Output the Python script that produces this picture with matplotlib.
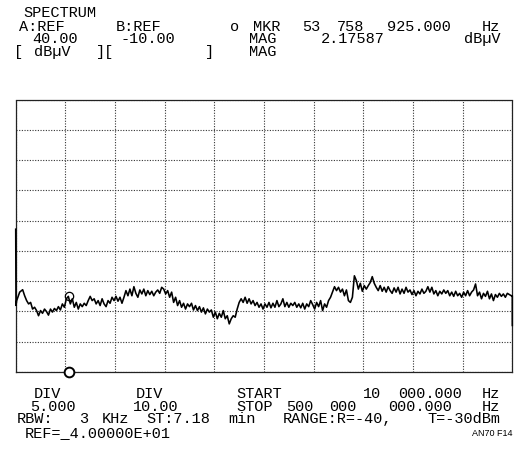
import matplotlib
matplotlib.use("Agg")
import matplotlib.pyplot as plt

# ---- data ----
start_mhz = 0.01
stop_mhz = 500.0
ref_dbuv = 40.0
div_db = 5.0
n_ydiv = 9
n_xdiv = 10

freq_mhz = [0.01, 0.3, 1, 4, 7, 9] + list(range(11, 500, 2)) + [500, 500]
level_dbuv = [18.6, 6.0, 6.8, 8.2, 8.6, 7.6,
    6.8, 6.25, 6.5, 5.4, 5.7, 5.15, 4.3, 5.15, 4.7, 5.4,
    5.0, 4.4, 5.4, 4.9, 5.5, 5.15, 5.8, 5.25, 6.25, 5.7,
    7.1, 7.5, 6.25, 7.1, 5.7, 6.5, 5.4, 6.25, 5.8, 6.36,
    5.98, 6.8, 7.5, 6.8, 7.1, 6.25, 6.8, 5.98, 7.1, 6.25,
    5.8, 6.8, 6.36, 7.35, 6.8, 7.5, 6.7, 7.35, 6.36, 7.35,
    8.45, 7.6, 8.7, 7.6, 9.1, 8.0, 7.35, 8.56, 7.9, 8.7,
    7.6, 8.45, 7.8, 8.34, 7.6, 8.2, 8.56, 8.0, 9.0, 8.7,
    7.9, 8.45, 7.35, 8.2, 6.5, 7.35, 5.98, 6.8, 5.7, 6.36,
    5.4, 6.25, 5.8, 6.36, 5.25, 5.98, 5.15, 5.8, 4.9, 5.6,
    4.6, 5.4, 4.9, 5.25, 4.05, 4.9, 3.8, 4.7, 4.05, 5.15,
    3.8, 4.3, 2.95, 3.8, 4.3, 4.05, 5.4, 6.5, 7.1, 6.5,
    7.35, 6.36, 7.1, 6.25, 6.8, 5.98, 6.5, 5.7, 6.25, 5.4,
    6.25, 5.7, 6.5, 5.6, 6.36, 5.7, 6.8, 5.8, 6.25, 7.1,
    5.8, 6.5, 5.7, 6.36, 5.98, 6.5, 5.7, 6.25, 5.6, 6.36,
    5.4, 6.25, 5.8, 6.8, 6.14, 5.4, 6.5, 5.8, 6.8, 5.15,
    6.25, 5.7, 6.8, 7.35, 8.2, 9.1, 8.45, 9.0, 8.2, 8.7,
    7.6, 8.56, 6.8, 6.5, 7.35, 10.9, 10.1, 8.7, 9.66, 8.34,
    9.28, 8.7, 9.28, 9.8, 10.76, 9.66, 9.0, 8.45, 9.28, 8.34,
    9.0, 8.2, 9.1, 8.45, 8.0, 8.9, 8.2, 9.0, 7.9, 8.7,
    8.0, 9.0, 8.2, 8.56, 7.8, 8.45, 7.6, 8.34, 7.9, 8.7,
    8.0, 8.34, 9.1, 8.2, 9.0, 7.9, 8.45, 7.6, 8.34, 7.9,
    8.56, 8.0, 8.45, 7.6, 8.2, 7.5, 8.34, 7.6, 8.0, 7.35,
    8.2, 7.6, 8.45, 7.6, 8.2, 8.56, 9.55, 7.6, 8.2, 7.1,
    8.0, 7.5, 8.34, 7.1, 7.9, 6.8, 7.8, 7.35, 8.0, 7.5,
    7.9, 7.35, 8.0, 7.8, 7.6,
    7.6, 2.7]

marker_mhz = 53.76
marker_trace_db = 7.5

# ---- figure ----
W, H = 516, 452
fig = plt.figure(figsize=(W / 100, H / 100), dpi=100)
fig.patch.set_facecolor("white")

left_px, right_px, top_px, bot_px = 15.7, 512.3, 100.7, 373.0
ax = fig.add_axes([left_px / W, 1 - bot_px / H,
                   (right_px - left_px) / W, (bot_px - top_px) / H])

ybot = ref_dbuv - n_ydiv * div_db
ax.set_xlim(0, stop_mhz)
ax.set_ylim(ybot, ref_dbuv)
ax.set_xticks([stop_mhz * i / n_xdiv for i in range(n_xdiv + 1)])
ax.set_yticks([ybot + div_db * i for i in range(n_ydiv + 1)])
ax.tick_params(length=0, labelbottom=False, labelleft=False)
ax.grid(True, color="#333333", linestyle=(0, (1.0, 1.4)), linewidth=0.8)
for sp in ax.spines.values():
    sp.set_linestyle((0, (1.0, 1.0)))
    sp.set_linewidth(0.9)
    sp.set_color("#222222")

ax.plot(freq_mhz, level_dbuv, color="black", linewidth=1.15, clip_on=False, zorder=3)
ax.plot([marker_mhz], [marker_trace_db], marker="o", markersize=6,
        markerfacecolor="none", markeredgecolor="black", markeredgewidth=0.9, zorder=4)
ax.plot([marker_mhz], [ybot], marker="o", markersize=7,
        markerfacecolor="white", markeredgecolor="black", markeredgewidth=1.4,
        clip_on=False, zorder=5)

MONO = "Liberation Mono"
FS = 11


def t(xc, y, s, size=FS, family=MONO, ha="center"):
    fig.text(xc / W, 1 - y / H, s, fontsize=size, family=family,
             ha=ha, va="baseline", color="black")


# header (x = centre of each group, y = baseline, in pixels)
t(60, 17.3, "SPECTRUM")
t(42, 30.7, "A:REF")
t(139, 30.7, "B:REF")
t(235, 30.7, "o")
t(266.5, 30.7, "MKR")
t(311, 30.7, "53")
t(351, 30.7, "758")
t(418.5, 30.7, "925.000")
t(491, 30.7, "Hz")

t(55, 43.3, "40.00")
t(147.5, 43.3, "-10.00")
t(263, 43.3, "MAG")
t(352.5, 43.3, "2.17587")
t(482, 43.3, "dBµV")

t(19, 56.0, "[")
t(52, 56.0, "dBµV")
t(105, 56.0, "][")
t(210, 56.0, "]")
t(263, 56.0, "MAG")

# footer
t(47, 397.7, "DIV")
t(149, 397.7, "DIV")
t(259.5, 397.7, "START")
t(372, 397.7, "10")
t(430, 397.7, "000.000")
t(491, 397.7, "Hz")

t(52.5, 410.7, "5.000")
t(155.5, 410.7, "10.00")
t(254.5, 410.7, "STOP")
t(300, 410.7, "500")
t(343, 410.7, "000")
t(420, 410.7, "000.000")
t(491, 410.7, "Hz")

t(35, 423.3, "RBW:")
t(84, 423.3, "3")
t(115, 423.3, "KHz")
t(178.5, 423.3, "ST:7.18")
t(241.5, 423.3, "min")
t(338, 423.3, "RANGE:R=-40,")
t(464, 423.3, "T=-30dBm")

t(98, 437.0, "REF=_4.00000E+01")

t(513, 436.5, "AN70 F14", size=6.5, family="Liberation Sans", ha="right")

fig.savefig("out.png", dpi=100, facecolor="white")
